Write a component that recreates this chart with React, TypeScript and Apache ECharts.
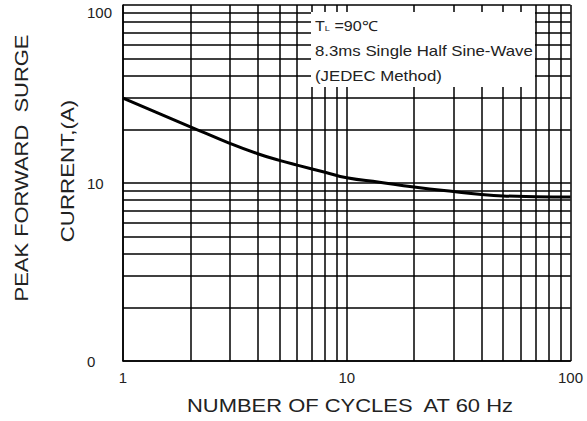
import React, { useEffect, useRef } from "react";
import * as echarts from "echarts";

const cycles = [1, 2, 3, 4, 5, 6, 8, 10, 14, 20, 30, 40, 50, 70, 100];
const current = [30, 20.7, 16.7, 14.6, 13.4, 12.6, 11.5, 10.7, 10.1, 9.5, 8.95, 8.62, 8.46, 8.38, 8.35];
const minorX = [2, 3, 4, 5, 6, 7, 8, 9, 20, 30, 40, 50, 60, 70, 80, 90];
const minorY = [2, 3, 4, 5, 6, 7, 8, 9, 20, 30, 40, 50, 60, 70, 80, 90];
const noteLines = ["8.3ms Single Half Sine-Wave", "(JEDEC Method)"];
const xTitle = "NUMBER OF CYCLES  AT 60 Hz";
const yTitle1 = "PEAK FORWARD  SURGE";
const yTitle2 = "CURRENT,(A)";

const FONT = "'Liberation Sans', Arial, sans-serif";
const TXT = "#222";

export default function App() {
  const ref = useRef<HTMLDivElement>(null);
  useEffect(() => {
    if (!ref.current) return;
    const chart = echarts.init(ref.current, undefined, { renderer: "svg" });
    const grid = { left: 123, right: 16.5, top: 5, bottom: 60 };
    const gridLine = { color: "#000", width: 1.5, type: "solid" as const };
    chart.setOption({
      animation: false,
      grid,
      xAxis: {
        type: "log",
        logBase: 10,
        min: 1,
        max: 100,
        axisLine: { show: true, lineStyle: { color: "#000", width: 1.5 } },
        axisTick: { show: false },
        axisLabel: { color: TXT, fontFamily: FONT, fontSize: 15, margin: 9 },
        splitLine: { show: true, lineStyle: gridLine },
      },
      yAxis: {
        type: "log",
        logBase: 10,
        min: 1,
        max: 100,
        axisLine: { show: true, lineStyle: { color: "#000", width: 1.5 } },
        axisTick: { show: false },
        axisLabel: {
          color: TXT,
          fontFamily: FONT,
          fontSize: 15,
          align: "left",
          margin: 36,
          formatter: (v: number) => (v === 1 ? "0" : v === 100 ? "{t|100}" : String(v)),
          rich: { t: { padding: [15, 0, 0, 0], color: TXT, fontFamily: FONT, fontSize: 15 } },
        },
        splitLine: { show: true, lineStyle: gridLine },
      },
      series: [
        {
          type: "line",
          data: cycles.map((c, i) => [c, current[i]]),
          smooth: 0.5,
          showSymbol: false,
          lineStyle: { color: "#000", width: 3 },
          z: 5,
          markLine: {
            silent: true,
            symbol: ["none", "none"],
            label: { show: false },
            lineStyle: gridLine,
            emphasis: { disabled: true },
            data: [
              ...minorX.map((v) => ({ xAxis: v })),
              ...minorY.map((v) => ({ yAxis: v })),
            ],
          },
        },
      ],
      graphic: [
        {
          type: "rect",
          shape: { x: 311, y: 12, width: 224, height: 75 },
          style: { fill: "#fff" },
          z: 100,
        },
        {
          type: "text",
          x: 315,
          y: 26,
          z: 101,
          scaleX: 1.15,
          style: {
            text: "T{s|L} =90℃",
            fill: TXT,
            font: `14px ${FONT}`,
            verticalAlign: "middle",
            rich: { s: { fontSize: 8, fill: TXT, fontFamily: FONT, padding: [5, 0, 0, 0] } },
          },
        },
        ...noteLines.map((t, i) => ({
          type: "text",
          x: 315,
          y: 51 + i * 25,
          z: 101,
          scaleX: 1.2,
          style: { text: t, fill: TXT, font: `14px ${FONT}`, verticalAlign: "middle" },
        })),
        {
          type: "text",
          x: 350,
          y: 406,
          scaleX: 1.22,
          style: { text: xTitle, fill: TXT, font: `18px ${FONT}`, align: "center", verticalAlign: "middle" },
        },
        {
          type: "text",
          x: 22,
          y: 168,
          rotation: Math.PI / 2,
          scaleX: 1.22,
          style: { text: yTitle1, fill: TXT, font: `18px ${FONT}`, align: "center", verticalAlign: "middle" },
        },
        {
          type: "text",
          x: 68,
          y: 171,
          rotation: Math.PI / 2,
          scaleX: 1.24,
          style: { text: yTitle2, fill: TXT, font: `18px ${FONT}`, align: "center", verticalAlign: "middle" },
        },
      ],
    });
    return () => chart.dispose();
  }, []);
  return <div ref={ref} style={{ width: 587, height: 421, position: "absolute", left: 0, top: 0 }} />;
}
